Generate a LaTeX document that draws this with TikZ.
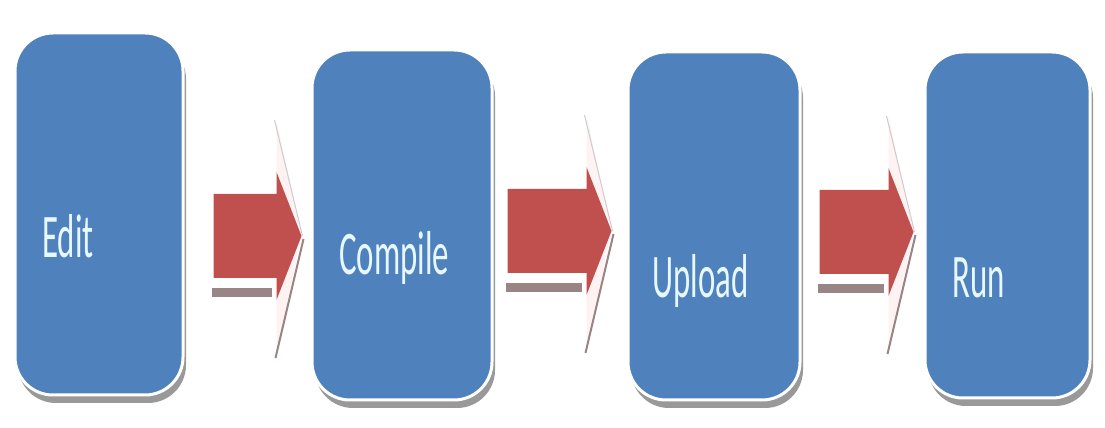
\documentclass[tikz,border=0pt]{standalone}
\usepackage{graphicx}
\usepackage{fontspec}
\setmainfont{Carlito}
\usepackage{tikz}
\usetikzlibrary{calc,shadows}

\definecolor{stageblue}{HTML}{4F81BD}
\definecolor{arrowred}{HTML}{C0504D}
\definecolor{stagetext}{HTML}{E8F8FF}
\definecolor{barshadow}{HTML}{9A8586}

\tikzset{
  stage/.style={rectangle, rounded corners=38pt, fill=stageblue, draw=white, line width=3pt,
    inner sep=0pt, drop shadow={shadow xshift=3pt, shadow yshift=-8pt, fill=gray!80, opacity=1}},
  stagelabel/.style={anchor=base west, inner sep=0pt, text=stagetext}
}

\newcommand{\stagename}[1]{\scalebox{0.53}[1]{\fontsize{62}{62}\selectfont #1}}

% #1 from, #2 to, #3 centre height, #4 left gap, #5 right gap
\newcommand{\redarrow}[5]{%
\path let \p1=(#1.east), \p2=(#2.west) in
  coordinate (s) at (\x1+#4pt, #3pt) coordinate (t) at (\x2-#5pt, #3pt);
\fill[red!5] ($(t)+(-25,116)$) -- (t) -- ($(t)+(-25,-120)$) -- cycle;
\draw[gray!40, line width=1pt] ($(t)+(-27,116)$) -- ($(t)+(1,0)$);
\draw[barshadow, line width=2pt] ($(t)+(2,-3)$) -- ($(t)+(-26,-122)$);
\fill[barshadow] ($(s)+(-2,-52)$) rectangle ($(t)+(-30,-61)$);
\fill[arrowred] ($(s)+(0,42)$) -- ($(t)+(-25,42)$) -- ($(t)+(-25,64)$) -- (t)
  -- ($(t)+(-25,-64)$) -- ($(t)+(-25,-42)$) -- ($(s)+(0,-42)$) -- cycle;
}

\begin{document}
\begin{tikzpicture}[x=1pt,y=1pt]
\useasboundingbox (0,0) rectangle (1105,428);
\fill[white] (0,0) rectangle (1105,428);

\node[stage, minimum width=168pt, minimum height=362pt] (edit) at (99,214) {};
\node[stage, minimum width=180pt, minimum height=350pt] (compile) at (402,203) {};
\node[stage, minimum width=172pt, minimum height=348pt] (upload) at (714,202) {};
\node[stage, minimum width=165pt, minimum height=346pt] (run) at (1007.5,203) {};

\node[stagelabel] (edit-txt) at (42,170) {\stagename{Edit}};
\node[stagelabel] (compile-txt) at (339,153) {\stagename{Compile}};
\node[stagelabel] (upload-txt) at (652,130) {\stagename{Upload}};
\node[stagelabel] (run-txt) at (952,130) {\stagename{Run}};

\redarrow{edit}{compile}{192}{29}{9}
\redarrow{compile}{upload}{197}{14}{15}
\redarrow{upload}{run}{196}{18}{10}
\end{tikzpicture}
\end{document}
